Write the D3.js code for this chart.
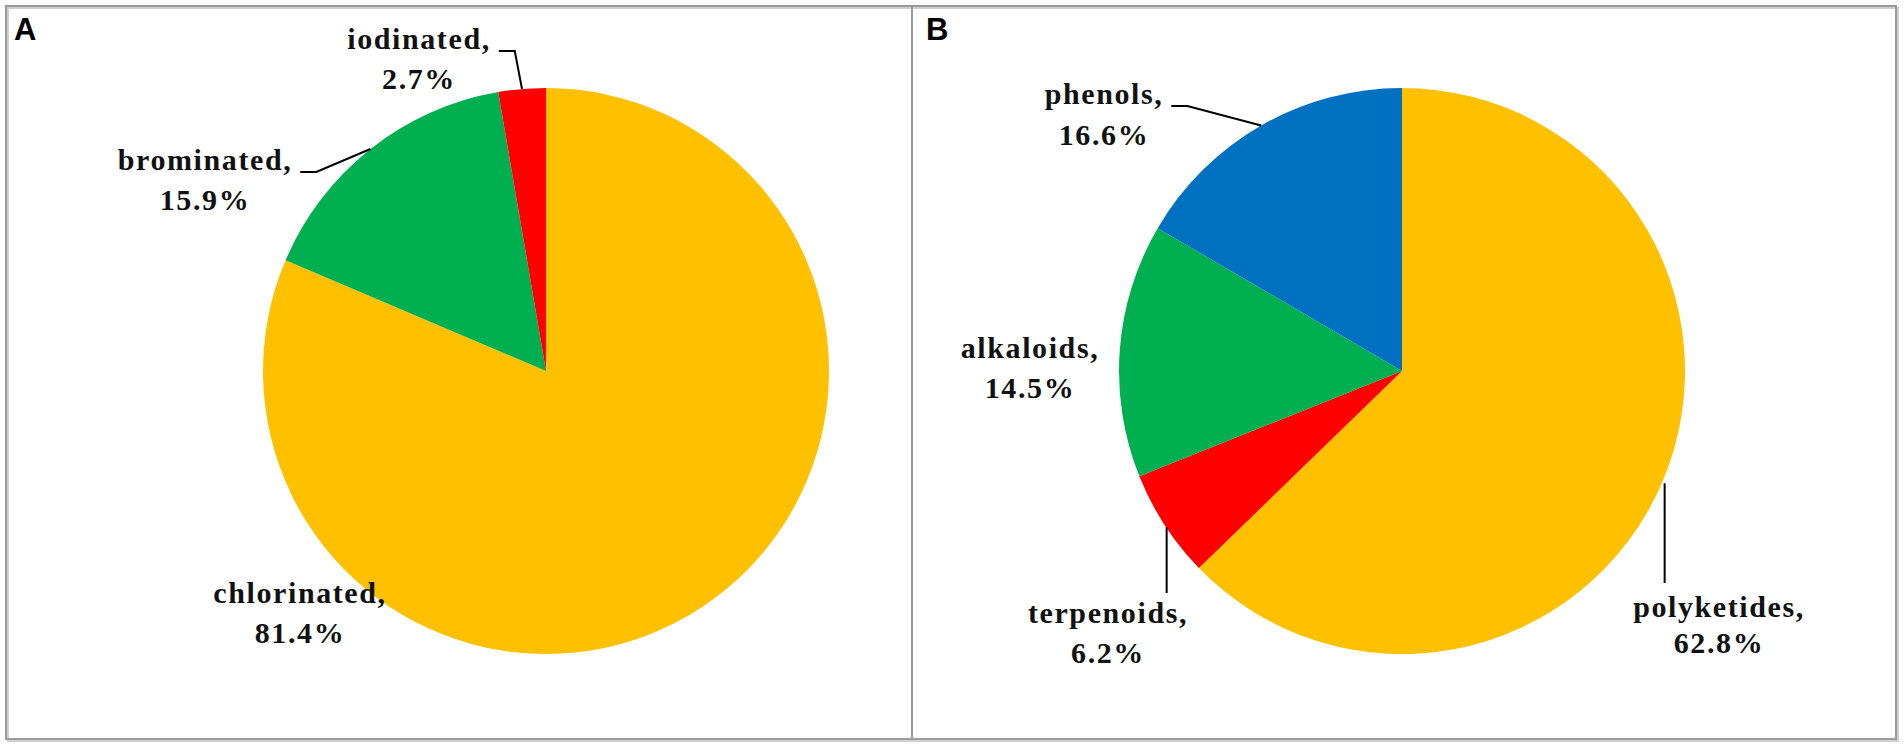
<!DOCTYPE html>
<html>
<head>
<meta charset="utf-8">
<script src="https://cdn.jsdelivr.net/npm/d3@7"></script>
<style>
  html, body { margin: 0; padding: 0; background: #fff; }
  svg { display: block; }
  .lbl { font-family: "Liberation Serif", "Times New Roman", serif; font-weight: bold; font-size: 30px; letter-spacing: 1.6px; fill: #111; }
  .panel-tag { font-family: "Liberation Sans", Arial, sans-serif; font-weight: bold; font-size: 31px; fill: #000; }
</style>
</head>
<body>
<div id="chart"></div>
<script>
// panel A : halogenated compounds
const labelsA = ["chlorinated", "brominated", "iodinated"]
const valuesA = [81.4, 15.9, 2.7]
const colorsA = ["#FFC000", "#00B050", "#FF0000"]

// panel B : structural classes
const labelsB = ["polyketides", "terpenoids", "alkaloids", "phenols"]
const valuesB = [62.8, 6.2, 14.5, 16.6]
const colorsB = ["#FFC000", "#FF0000", "#00B050", "#0070C0"]

// where the labels sit (text centre x, first baseline) and how the leader goes
const layoutA = [
  { x: 300, y: 603, gap: 40, leader: "none" },
  { x: 205, y: 170, gap: 40, leader: "elbow" },
  { x: 419, y: 49, gap: 40, leader: "elbow" }
]
const layoutB = [
  { x: 1719, y: 617, gap: 36, leader: "down", stop: 583 },
  { x: 1108, y: 623, gap: 40, leader: "down", stop: 593 },
  { x: 1030, y: 358, gap: 40, leader: "none" },
  { x: 1104, y: 104, gap: 41, leader: "elbow" }
]

const W = 1904, H = 746
const svg = d3.select('#chart').append('svg')
  .attr('width', W)
  .attr('height', H)

// frames
svg.append('rect')
  .attr('x', 8).attr('y', 8).attr('width', 1890).attr('height', 733)
  .attr('fill', 'none').attr('stroke', '#d0d0d0').attr('stroke-width', 2)
svg.append('rect')
  .attr('x', 6).attr('y', 6).attr('width', 906).attr('height', 733)
  .attr('fill', 'none').attr('stroke', '#9a9a9a').attr('stroke-width', 2)
svg.append('rect')
  .attr('x', 912).attr('y', 6).attr('width', 984).attr('height', 733)
  .attr('fill', 'none').attr('stroke', '#9a9a9a').attr('stroke-width', 2)

svg.append('text').attr('class', 'panel-tag').attr('x', 14).attr('y', 40).text('A')
svg.append('text').attr('class', 'panel-tag').attr('x', 926).attr('y', 40).text('B')

const R = 283

function drawPie(cx, cy, labels, values, colors, layout) {
  const g = svg.append('g').attr('transform', `translate(${cx},${cy})`)
  const pie = d3.pie().sort(null).value(d => d)
  const arcs = pie(values)
  const arc = d3.arc().innerRadius(0).outerRadius(R)

  g.selectAll('path.slice')
    .data(arcs)
    .enter()
    .append('path')
    .attr('class', 'slice')
    .attr('d', arc)
    .attr('fill', (d, i) => colors[i])

  arcs.forEach((d, i) => {
    const L = layout[i]
    const t = svg.append('text')
      .attr('class', 'lbl')
      .attr('text-anchor', 'middle')
    t.append('tspan').attr('x', L.x).attr('y', L.y).text(labels[i] + ',')
    t.append('tspan').attr('x', L.x).attr('y', L.y + L.gap).text(d3.format('.1f')(values[i]) + '%')

    // point on the rim, middle of the slice
    const a = (d.startAngle + d.endAngle) / 2
    const px = cx + R * Math.sin(a)
    const py = cy - R * Math.cos(a)

    let pts = null
    if (L.leader === 'elbow') {
      const w = t.select('tspan').node().getComputedTextLength()
      const x0 = L.x + w / 2 + 8
      const ly = L.y + 2
      pts = [[x0, ly], [x0 + 16, ly], [px, py]]
    } else if (L.leader === 'down') {
      pts = [[px + 2, py + 2], [px + 2, L.stop]]
    }
    if (pts) {
      svg.append('path')
        .attr('d', d3.line()(pts))
        .attr('fill', 'none')
        .attr('stroke', '#000')
        .attr('stroke-width', 2)
    }
  })
}

drawPie(546, 371, labelsA, valuesA, colorsA, layoutA)
drawPie(1402, 371, labelsB, valuesB, colorsB, layoutB)
</script>
</body>
</html>
